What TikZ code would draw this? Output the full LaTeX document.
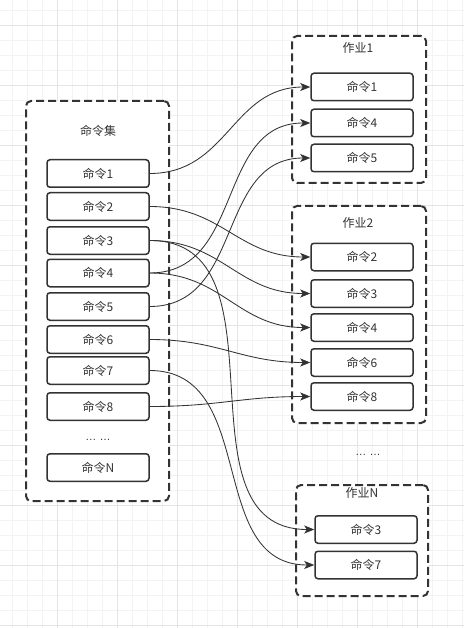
\documentclass[tikz,border=0pt]{standalone}
\usepackage{fontspec}
\setmainfont{Noto Sans CJK SC}
\newfontfamily\latinf{Liberation Sans}
\usetikzlibrary{arrows.meta}
\definecolor{ink}{HTML}{333333}
\definecolor{gmin}{HTML}{F3F3F3}
\definecolor{gmaj}{HTML}{E5E5E5}
\tikzset{
  cmd/.style={draw=ink, line width=1.5pt, rounded corners=3pt, fill=white,
    minimum width=102pt, minimum height=27.5pt, inner sep=0pt, text=ink,
    font=\fontsize{12pt}{14pt}\selectfont},
  group/.style={draw=ink, line width=2pt, dash pattern=on 8pt off 4pt,
    rounded corners=5pt, fill=white, inner sep=0pt},
  ttl/.style={inner sep=0pt, text=ink, font=\fontsize{12pt}{14pt}\selectfont},
  link/.style={draw=ink, line width=0.85pt,
    -{Stealth[length=10pt,width=8pt,inset=2.5pt]}, out=0, in=180, looseness=1.1}
}
\begin{document}
\begin{tikzpicture}[x=1pt,y=-1pt]
\useasboundingbox (0,0) rectangle (464,628);
\fill[white] (0,0) rectangle (464,628);
% grid
\foreach \x in {12,27,...,462} \draw[gmin, line width=0.8pt] (\x,0) -- (\x,628);
\foreach \y in {10,25,...,627} \draw[gmin, line width=0.8pt] (0,\y) -- (464,\y);
\foreach \x in {57,117,...,462} \draw[gmaj, line width=0.8pt] (\x,0) -- (\x,628);
\foreach \y in {25,85,...,627} \draw[gmaj, line width=0.8pt] (0,\y) -- (464,\y);

% containers
\node[group, minimum width=143pt, minimum height=400pt] (gL) at (97.5,301) {};
\node[group, minimum width=134pt, minimum height=147pt] (g1) at (359,109.5) {};
\node[group, minimum width=134pt, minimum height=217pt] (g2) at (359,314.5) {};
\node[group, minimum width=132pt, minimum height=111pt] (gN) at (362,540.5) {};

\node[ttl] (tL) at (98,131) {命令集};
\node[ttl] (t1) at (358,48) {作业1};
\node[ttl] (t2) at (358,223) {作业2};
\node[ttl] (tN) at (362,493) {作业N};

% left commands
\node[cmd] (l1) at (98,173.5) {命令1};
\node[cmd] (l2) at (98,206.5) {命令2};
\node[cmd] (l3) at (98,240.5) {命令3};
\node[cmd] (l4) at (98,273) {命令4};
\node[cmd] (l5) at (98,306.5) {命令5};
\node[cmd] (l6) at (98,339.5) {命令6};
\node[cmd] (l7) at (98,370.5) {命令7};
\node[cmd] (l8) at (98,406.5) {命令8};
\node[ttl, font=\latinf\fontsize{11pt}{13pt}\selectfont] (ldots) at (98,440) {… …};
\node[cmd] (lN) at (98,467.5) {命令N};

% job 1
\node[cmd] (a1) at (362,87) {命令1};
\node[cmd] (a4) at (362,123) {命令4};
\node[cmd] (a5) at (362,158) {命令5};
% job 2
\node[cmd] (b2) at (362,257) {命令2};
\node[cmd] (b3) at (362,293.5) {命令3};
\node[cmd] (b4) at (362,327.5) {命令4};
\node[cmd] (b6) at (362,362.5) {命令6};
\node[cmd] (b8) at (362,396.5) {命令8};
\node[ttl, font=\latinf\fontsize{11pt}{13pt}\selectfont] (rdots) at (368,455) {… …};
% job N
\node[cmd] (n3) at (366,529.5) {命令3};
\node[cmd] (n7) at (366,565) {命令7};

% links
\draw[link] (l1.east) to (a1.west);
\draw[link] (l2.east) to (b2.west);
\draw[link] (l3.east) to (b3.west);
\draw[link] (l3.east) to (n3.west);
\draw[link] (l4.east) to (a4.west);
\draw[link] (l4.east) to (b4.west);
\draw[link] (l5.east) to (a5.west);
\draw[link] (l6.east) to (b6.west);
\draw[link] (l7.east) to (n7.west);
\draw[link] (l8.east) to (b8.west);
\end{tikzpicture}
\end{document}
